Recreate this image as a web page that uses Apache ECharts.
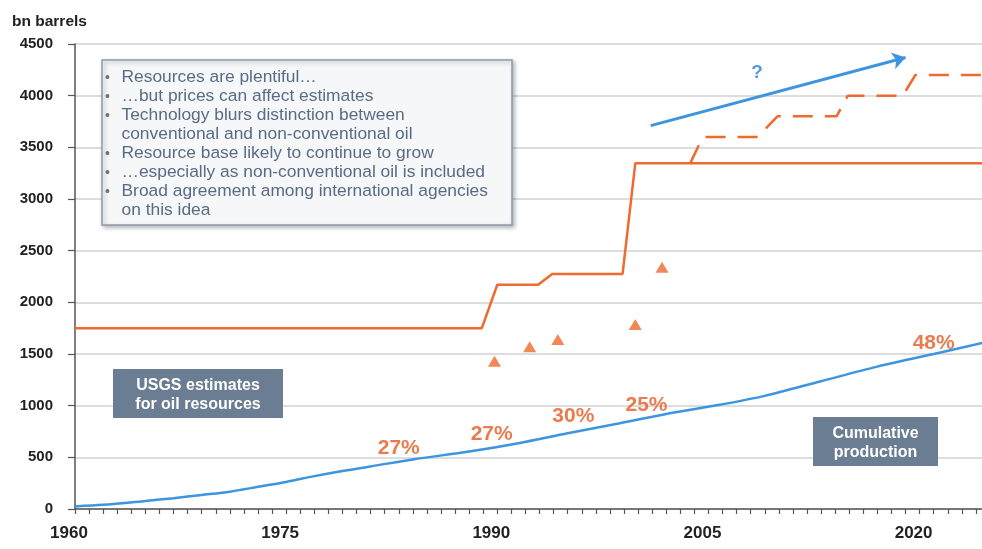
<!DOCTYPE html>
<html>
<head>
<meta charset="utf-8">
<title>USGS oil resource estimates vs cumulative production</title>
<script src="https://cdn.jsdelivr.net/npm/echarts@6/dist/echarts.min.js"></script>
<style>
  html, body { margin: 0; padding: 0; background: #ffffff; }
  #chart { width: 982px; height: 549px; }
</style>
</head>
<body>
<div id="chart"></div>
<script>
// USGS resource estimates (bn barrels), stepped over time
const usgsYears = [1960, 1988.9, 1990.0, 1992.9, 1993.9, 1998.9, 1999.8, 2025];
const usgsValues = [1750, 1750, 2170, 2170, 2275, 2275, 3345, 3345];

// Possible further growth as non-conventional oil is counted
const outlookYears = [2003.7, 2004.6, 2008.5, 2009.9, 2014.1, 2014.9, 2018.8, 2019.7, 2025];
const outlookValues = [3345, 3600, 3600, 3800, 3800, 4000, 4000, 4200, 4200];

// Other individual assessments
const pointYears = [1989.8, 1992.3, 1994.3, 1999.8, 2001.7];
const pointValues = [1430, 1570, 1640, 1786, 2340];

// Cumulative world production (bn barrels)
const prodYears = [1960, 1962, 1965, 1967, 1969, 1971, 1973, 1975, 1977, 1979, 1981, 1984,
                   1988, 1991.5, 1995, 1998.7, 2002, 2005.8, 2009, 2013, 2017, 2021, 2025];
const prodValues = [25, 40, 78, 105, 136, 168, 215, 262, 318, 368, 412, 480,
                    556, 637, 733, 830, 920, 1009, 1095, 1237, 1378, 1500, 1625];

// Share of estimated resources already produced
const shareYears = [1983.0, 1989.6, 1995.4, 2000.6, 2021.0];
const shareValues = [591, 720, 900, 1001, 1608];
const shareTexts = ['27%', '27%', '30%', '25%', '48%'];

// Trend arrow and its question mark
const arrowFrom = [2000.9, 3710];
const arrowTo = [2019.0, 4370];
const questionAt = [2008.45, 4225];

// Axis settings
const yTicks = [0, 500, 1000, 1500, 2000, 2500, 3000, 3500, 4000, 4500];
const xLabelYears = [1960, 1975, 1990, 2005, 2020];

const bulletLines = [
  { bullet: true,  text: 'Resources are plentiful…' },
  { bullet: true,  text: '…but prices can affect estimates' },
  { bullet: true,  text: 'Technology blurs distinction between' },
  { bullet: false, text: 'conventional and non-conventional oil' },
  { bullet: true,  text: 'Resource base likely to continue to grow' },
  { bullet: true,  text: '…especially as non-conventional oil is included' },
  { bullet: true,  text: 'Broad agreement among international agencies' },
  { bullet: false, text: 'on this idea' }
];

const FONT = '"Liberation Sans", Arial, Helvetica, sans-serif';
const ORANGE = '#ee6a2e';
const LABEL_ORANGE = '#e55a22';
const BLUE = '#3d95df';
const SLATE = '#6b7d93';
const TOP_Z = 100;

const zip = (a, b) => a.map((v, i) => [v, b[i]]);

const chart = echarts.init(document.getElementById('chart'));

// Notes panel
const boxLeft = 102, boxTop = 60, boxW = 410, boxH = 165;
const panelItems = [
  {
    type: 'rect',
    z: TOP_Z,
    shape: { x: boxLeft, y: boxTop, width: boxW, height: boxH },
    style: {
      fill: '#f5f7f9', stroke: '#8e99a8', lineWidth: 1.5,
      shadowBlur: 4, shadowOffsetX: 2, shadowOffsetY: 2, shadowColor: 'rgba(0,0,0,0.28)'
    }
  }
];
bulletLines.forEach((ln, i) => {
  const cy = 77.7 + i * 19;
  if (ln.bullet) {
    panelItems.push({
      type: 'text',
      z: TOP_Z + 1,
      style: { x: 105, y: cy, text: '•', fill: '#66738a', font: '14px ' + FONT, verticalAlign: 'middle' }
    });
  }
  panelItems.push({
    type: 'text',
    z: TOP_Z + 1,
    style: { x: 121.5, y: cy, text: ln.text, fill: '#5a6b84', font: '17.4px ' + FONT, verticalAlign: 'middle' }
  });
});

// Dark caption boxes
function captionBox(x, y, w, h, lines) {
  const items = [{ type: 'rect', z: TOP_Z, shape: { x, y, width: w, height: h }, style: { fill: SLATE } }];
  lines.forEach((t, i) => {
    items.push({
      type: 'text',
      z: TOP_Z + 1,
      style: {
        x: x + w / 2, y: y + 16.5 + i * 19, text: t, fill: '#ffffff',
        font: 'bold 16px ' + FONT, align: 'center', verticalAlign: 'middle'
      }
    });
  });
  return items;
}

const option = {
  animation: false,
  backgroundColor: '#ffffff',
  textStyle: { fontFamily: FONT },
  grid: { left: 75, width: 915, top: 44, bottom: 40, containLabel: false, outerBoundsMode: 'none' },
  xAxis: {
    type: 'value',
    min: 1960,
    max: 2025,
    interval: 1,
    axisLine: { show: true, onZero: false, lineStyle: { color: '#555', width: 1.5 } },
    axisTick: { show: true, length: 5, lineStyle: { color: '#555', width: 1.2 } },
    axisLabel: {
      margin: 16,
      color: '#222',
      fontSize: 17,
      fontWeight: 'bold',
      fontFamily: FONT,
      padding: [0, 12, 0, 0],
      formatter: v => (xLabelYears.indexOf(Math.round(v)) >= 0 && Math.abs(v - Math.round(v)) < 1e-6) ? String(Math.round(v)) : ''
    },
    splitLine: { show: false }
  },
  yAxis: {
    type: 'value',
    min: yTicks[0],
    max: yTicks[yTicks.length - 1],
    interval: 500,
    axisLine: { show: true, lineStyle: { color: '#555', width: 1.5 } },
    axisTick: { show: true, length: 7, lineStyle: { color: '#555', width: 1.2 } },
    axisLabel: {
      margin: 22, color: '#222', fontSize: 15, fontWeight: 'bold', fontFamily: FONT,
      formatter: v => String(v)
    },
    splitLine: { show: true, lineStyle: { color: '#d2d2d2', width: 1.5 } }
  },
  graphic: [
    {
      type: 'text',
      left: 12, top: 14,
      style: { text: 'bn barrels', fill: '#222', font: 'bold 15.5px ' + FONT }
    },
    ...panelItems,
    ...captionBox(113, 369, 170, 49, ['USGS estimates', 'for oil resources']),
    ...captionBox(813, 417, 125, 49, ['Cumulative', 'production'])
  ],
  series: [
    {
      name: 'USGS estimates',
      type: 'line',
      data: zip(usgsYears, usgsValues),
      symbol: 'none',
      lineStyle: { color: ORANGE, width: 2.5 },
      z: 3
    },
    {
      name: 'Outlook',
      type: 'line',
      data: zip(outlookYears, outlookValues),
      symbol: 'none',
      lineStyle: { color: ORANGE, width: 2.5, type: [20, 12] },
      z: 3
    },
    {
      name: 'Other assessments',
      type: 'scatter',
      data: zip(pointYears, pointValues),
      symbol: 'triangle',
      symbolSize: [13, 11],
      itemStyle: { color: ORANGE },
      z: 4
    },
    {
      name: 'Cumulative production',
      type: 'line',
      data: zip(prodYears, prodValues),
      symbol: 'none',
      smooth: 0.3,
      lineStyle: { color: BLUE, width: 2.5 },
      z: 3
    },
    {
      name: 'Share produced',
      type: 'scatter',
      data: shareYears.map((y, i) => [y, shareValues[i], shareTexts[i]]),
      symbolSize: 0,
      label: {
        show: true,
        position: 'inside',
        formatter: p => p.data[2],
        color: LABEL_ORANGE,
        fontSize: 21,
        fontWeight: 'bold',
        fontFamily: FONT
      },
      z: 5
    },
    {
      name: 'Trend',
      type: 'lines',
      coordinateSystem: 'cartesian2d',
      data: [{ coords: [arrowFrom, arrowTo] }],
      symbol: ['none', 'arrow'],
      symbolSize: 13,
      lineStyle: { color: BLUE, width: 3, opacity: 1 },
      z: 5
    },
    {
      name: 'Question',
      type: 'scatter',
      data: [[questionAt[0], questionAt[1], '?']],
      symbolSize: 0,
      label: {
        show: true,
        position: 'inside',
        formatter: '?',
        color: '#2a7fd0',
        fontSize: 19,
        fontWeight: 'bold',
        fontFamily: FONT
      },
      z: 5
    }
  ]
};

chart.setOption(option);
</script>
</body>
</html>
